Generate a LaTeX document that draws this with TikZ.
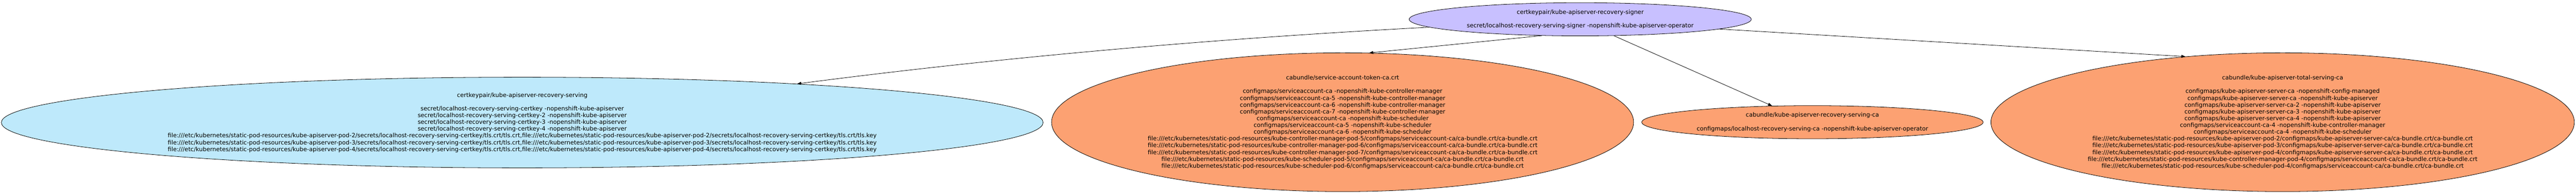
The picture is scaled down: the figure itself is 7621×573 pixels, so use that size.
\documentclass[tikz,border=0pt]{standalone}
\usepackage{fontspec}
\setmainfont{DejaVu Sans}
\usetikzlibrary{shapes.geometric,arrows.meta}
\definecolor{lav}{RGB}{200,192,255}
\definecolor{skyfill}{RGB}{190,233,251}
\definecolor{orangefill}{RGB}{252,161,114}
\begin{document}
\begin{tikzpicture}[x=1pt,y=-1pt,
  shell/.style={ellipse, draw=black, line width=1.2pt, inner sep=0pt},
  lbl/.style={align=center, inner sep=0pt, font=\fontsize{17.4}{20}\selectfont},
  conn/.style={line width=1.2pt, -{Triangle[length=12pt,width=8.5pt]}}]
\useasboundingbox (0,0) rectangle (7621,573);

\node[shell, fill=lav, minimum width=1012pt, minimum height=98pt] (top) at (4675,57) {};
\node[lbl] (toptext) at (top.center) {certkeypair/kube-apiserver-recovery-signer\\[20pt]secret/localhost-recovery-serving-signer -nopenshift-kube-apiserver-operator};

\node[shell, fill=skyfill, minimum width=3082pt, minimum height=268pt] (blue) at (1545,362) {};
\node[lbl] (bluetext) at (blue.center) {certkeypair/kube-apiserver-recovery-serving\\[20pt]
secret/localhost-recovery-serving-certkey -nopenshift-kube-apiserver\\
secret/localhost-recovery-serving-certkey-2 -nopenshift-kube-apiserver\\
secret/localhost-recovery-serving-certkey-3 -nopenshift-kube-apiserver\\
secret/localhost-recovery-serving-certkey-4 -nopenshift-kube-apiserver\\
file:///etc/kubernetes/static-pod-resources/kube-apiserver-pod-2/secrets/localhost-recovery-serving-certkey/tls.crt/tls.crt,file:///etc/kubernetes/static-pod-resources/kube-apiserver-pod-2/secrets/localhost-recovery-serving-certkey/tls.crt/tls.key\\
file:///etc/kubernetes/static-pod-resources/kube-apiserver-pod-3/secrets/localhost-recovery-serving-certkey/tls.crt/tls.crt,file:///etc/kubernetes/static-pod-resources/kube-apiserver-pod-3/secrets/localhost-recovery-serving-certkey/tls.crt/tls.key\\
file:///etc/kubernetes/static-pod-resources/kube-apiserver-pod-4/secrets/localhost-recovery-serving-certkey/tls.crt/tls.crt,file:///etc/kubernetes/static-pod-resources/kube-apiserver-pod-4/secrets/localhost-recovery-serving-certkey/tls.crt/tls.key};

\node[shell, fill=orangefill, minimum width=1722pt, minimum height=410pt] (sat) at (3972,361) {};
\node[lbl] (sattext) at (sat.center) {cabundle/service-account-token-ca.crt\\[20pt]
configmaps/serviceaccount-ca -nopenshift-kube-controller-manager\\
configmaps/serviceaccount-ca-5 -nopenshift-kube-controller-manager\\
configmaps/serviceaccount-ca-6 -nopenshift-kube-controller-manager\\
configmaps/serviceaccount-ca-7 -nopenshift-kube-controller-manager\\
configmaps/serviceaccount-ca -nopenshift-kube-scheduler\\
configmaps/serviceaccount-ca-5 -nopenshift-kube-scheduler\\
configmaps/serviceaccount-ca-6 -nopenshift-kube-scheduler\\
file:///etc/kubernetes/static-pod-resources/kube-controller-manager-pod-5/configmaps/serviceaccount-ca/ca-bundle.crt/ca-bundle.crt\\
file:///etc/kubernetes/static-pod-resources/kube-controller-manager-pod-6/configmaps/serviceaccount-ca/ca-bundle.crt/ca-bundle.crt\\
file:///etc/kubernetes/static-pod-resources/kube-controller-manager-pod-7/configmaps/serviceaccount-ca/ca-bundle.crt/ca-bundle.crt\\
file:///etc/kubernetes/static-pod-resources/kube-scheduler-pod-5/configmaps/serviceaccount-ca/ca-bundle.crt/ca-bundle.crt\\
file:///etc/kubernetes/static-pod-resources/kube-scheduler-pod-6/configmaps/serviceaccount-ca/ca-bundle.crt/ca-bundle.crt};

\node[shell, fill=orangefill, minimum width=1010pt, minimum height=98pt] (rsc) at (5362,361) {};
\node[lbl] (rsctext) at (rsc.center) {cabundle/kube-apiserver-recovery-serving-ca\\[20pt]configmaps/localhost-recovery-serving-ca -nopenshift-kube-apiserver-operator};

\node[shell, fill=orangefill, minimum width=1726pt, minimum height=410pt] (tsc) at (6753,361) {};
\node[lbl] (tsctext) at (tsc.center) {cabundle/kube-apiserver-total-serving-ca\\[20pt]
configmaps/kube-apiserver-server-ca -nopenshift-config-managed\\
configmaps/kube-apiserver-server-ca -nopenshift-kube-apiserver\\
configmaps/kube-apiserver-server-ca-2 -nopenshift-kube-apiserver\\
configmaps/kube-apiserver-server-ca-3 -nopenshift-kube-apiserver\\
configmaps/kube-apiserver-server-ca-4 -nopenshift-kube-apiserver\\
configmaps/serviceaccount-ca-4 -nopenshift-kube-controller-manager\\
configmaps/serviceaccount-ca-4 -nopenshift-kube-scheduler\\
file:///etc/kubernetes/static-pod-resources/kube-apiserver-pod-2/configmaps/kube-apiserver-server-ca/ca-bundle.crt/ca-bundle.crt\\
file:///etc/kubernetes/static-pod-resources/kube-apiserver-pod-3/configmaps/kube-apiserver-server-ca/ca-bundle.crt/ca-bundle.crt\\
file:///etc/kubernetes/static-pod-resources/kube-apiserver-pod-4/configmaps/kube-apiserver-server-ca/ca-bundle.crt/ca-bundle.crt\\
file:///etc/kubernetes/static-pod-resources/kube-controller-manager-pod-4/configmaps/serviceaccount-ca/ca-bundle.crt/ca-bundle.crt\\
file:///etc/kubernetes/static-pod-resources/kube-scheduler-pod-4/configmaps/serviceaccount-ca/ca-bundle.crt/ca-bundle.crt};

\draw[conn] (top.183) .. controls (3592,114) and (2964,169) .. (blue.8);
\draw[conn] (top.203) -- (sat.69);
\draw[conn] (top.334) -- (rsc.158);
\draw[conn] (top.356) -- (tsc.146);
\end{tikzpicture}
\end{document}
